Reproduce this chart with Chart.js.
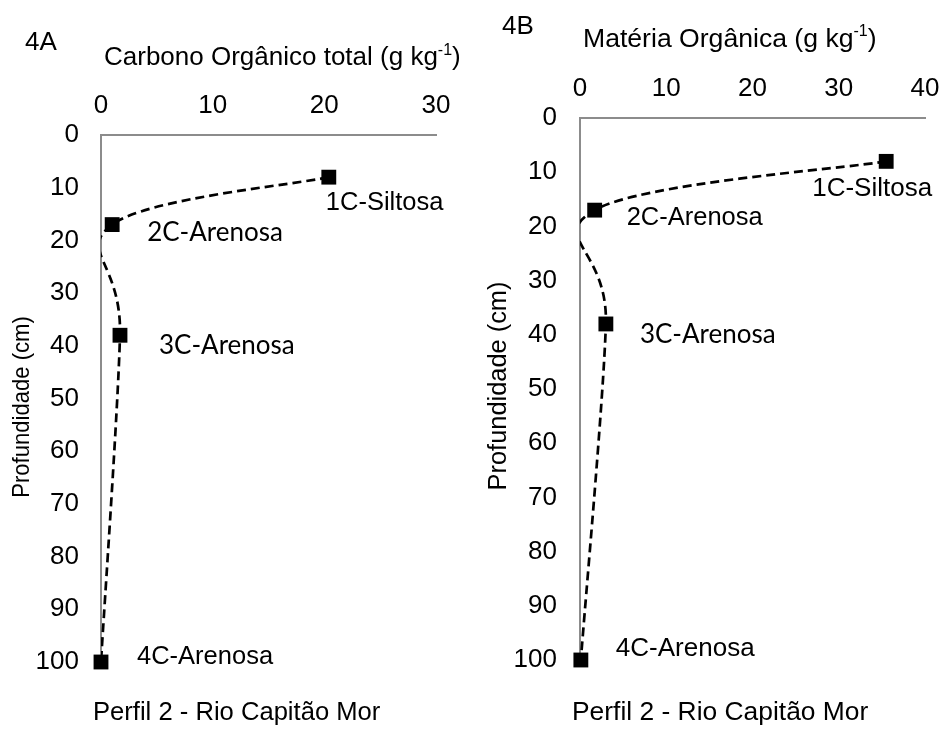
<!DOCTYPE html>
<html><head><meta charset="utf-8">
<script src="https://cdn.jsdelivr.net/npm/chart.js@4.4.1/dist/chart.umd.min.js"></script>
<style>
html,body{margin:0;padding:0;background:#fff;}
#wrap{position:relative;width:943px;height:729px;overflow:hidden;}
canvas{position:absolute;top:0;}
</style></head><body>
<div id="wrap">
<canvas id="cA" width="470" height="729" style="left:0;width:470px;height:729px"></canvas>
<canvas id="cB" width="473" height="729" style="left:470px;width:473px;height:729px"></canvas>
</div>
<script>
// ---- data ----
const depthCm = [8, 17, 38, 100];
const carbonoTotal = [20.4, 1.0, 1.7, 0.0];
const materiaOrganica = [35.5, 1.7, 3.0, 0.1];
const layerLabels = ['1C-Siltosa', '2C-Arenosa', '3C-Arenosa', '4C-Arenosa'];
const xTicksA = [0, 10, 20, 30];
const xTicksB = [0, 10, 20, 30, 40];
const yTicks = [0, 10, 20, 30, 40, 50, 60, 70, 80, 90, 100];

const ARIAL = '"Liberation Sans", Arial, sans-serif';
const CALI = 'Lato, "Liberation Sans", sans-serif';

function drawSup(ctx, x, y, base, sup, tail, size, family) {
  ctx.font = size + 'px ' + family;
  ctx.textAlign = 'left';
  ctx.textBaseline = 'middle';
  ctx.fillText(base, x, y);
  let w = ctx.measureText(base).width;
  ctx.font = Math.round(size * 0.62) + 'px ' + family;
  ctx.fillText(sup, x + w, y - size * 0.3);
  w += ctx.measureText(sup).width;
  ctx.font = size + 'px ' + family;
  ctx.fillText(tail, x + w, y);
}

// Excel-like smoothing (Catmull-Rom, 1/6 of neighbour difference)
const smoothPlugin = {
  id: 'smooth',
  beforeDatasetDraw(chart, args) {
    if (args.index !== 0) return;
    const meta = args.meta;
    const line = meta.dataset;
    line.updateControlPoints(chart.chartArea, 'x');
    const p = meta.data;
    const n = p.length;
    for (let i = 0; i < n; i++) {
      const a = p[Math.max(i - 1, 0)], b = p[Math.min(i + 1, n - 1)];
      const dx = (b.x - a.x) / 6, dy = (b.y - a.y) / 6;
      p[i].cp1x = p[i].x - dx; p[i].cp1y = p[i].y - dy;
      p[i].cp2x = p[i].x + dx; p[i].cp2y = p[i].y + dy;
    }
  }
};

function buildChart(id, cfg) {
  const canvas = document.getElementById(id);
  const W = canvas.width, H = canvas.height;
  const pts = cfg.xs.map((x, i) => ({x: x, y: depthCm[i]}));
  const textPlugin = {
    id: 'texts',
    afterDraw(chart) {
      const ctx = chart.ctx;
      ctx.save();
      ctx.fillStyle = '#000';
      ctx.font = cfg.fs + 'px ' + ARIAL;
      ctx.textAlign = 'left'; ctx.textBaseline = 'middle';
      ctx.fillText(cfg.panel, cfg.panelPos[0], cfg.panelPos[1]);
      drawSup(ctx, cfg.xTitlePos[0], cfg.xTitlePos[1], cfg.xTitle, '-1', ')', cfg.tfs, ARIAL);
      ctx.save();
      ctx.translate(cfg.yTitlePos[0], cfg.yTitlePos[1]);
      ctx.rotate(-Math.PI / 2);
      ctx.scale(cfg.yScaleX, 1);
      ctx.font = cfg.yfs + 'px ' + ARIAL;
      ctx.textAlign = 'center'; ctx.textBaseline = 'middle';
      ctx.fillText('Profundidade (cm)', 0, 0);
      ctx.restore();
      ctx.font = cfg.cfs + 'px ' + ARIAL;
      ctx.textAlign = 'left'; ctx.textBaseline = 'middle';
      ctx.fillText('Perfil 2 - Rio Capitão Mor', cfg.capPos[0], cfg.capPos[1]);
      const meta = chart.getDatasetMeta(1);
      meta.data.forEach((el, i) => {
        const o = cfg.labelOff[i];
        ctx.font = o[2] + 'px ' + o[3];
        ctx.fillText(layerLabels[i], el.x + o[0], el.y + o[1]);
      });
      ctx.restore();
    }
  };
  const tickFont = {family: ARIAL, size: cfg.fs};
  return new Chart(canvas, {
    type: 'scatter',
    data: {datasets: [{
      data: pts, showLine: true, borderColor: '#000', borderWidth: 2.7,
      borderDash: [9, 5], tension: 0.4, pointRadius: 0, pointHoverRadius: 0,
      clip: {left: 0, top: 30, right: 30, bottom: 30}
    }, {
      data: pts, showLine: false, pointStyle: 'rect', pointRadius: 10.5,
      pointHoverRadius: 10.5, pointBackgroundColor: '#000', pointBorderWidth: 0,
      pointBorderColor: '#000', clip: false
    }]},
    options: {
      responsive: false, animation: false, devicePixelRatio: 1,
      layout: {padding: {left: 0, top: 0, right: W - cfg.area.right, bottom: H - cfg.area.bottom}},
      plugins: {legend: {display: false}, tooltip: {enabled: false}},
      scales: {
        x: {
          type: 'linear', position: 'top', min: 0, max: cfg.xTicks[cfg.xTicks.length - 1],
          afterBuildTicks: s => { s.ticks = cfg.xTicks.map(v => ({value: v})); },
          ticks: {font: tickFont, color: '#000', padding: 14, maxRotation: 0, autoSkip: false},
          grid: {display: false, drawTicks: false},
          border: {display: true, color: '#8c8c8c', width: 2},
          afterFit: s => { s.height = cfg.area.top; s.paddingLeft = 0; s.paddingRight = 0; }
        },
        y: {
          type: 'linear', reverse: true, min: 0, max: 100,
          afterBuildTicks: s => { s.ticks = yTicks.map(v => ({value: v})); },
          ticks: {font: tickFont, color: '#000', padding: cfg.yPad, autoSkip: false},
          grid: {display: false, drawTicks: false},
          border: {display: true, color: '#8c8c8c', width: 2},
          afterFit: s => { s.width = cfg.area.left; s.paddingTop = 0; s.paddingBottom = 0; }
        }
      }
    },
    plugins: [smoothPlugin, textPlugin]
  });
}

buildChart('cA', {
  xs: carbonoTotal, xTicks: xTicksA, fs: 26, tfs: 26, cfs: 25.6, yfs: 24, yScaleX: 0.92, yPad: 22,
  area: {left: 101, right: 436, top: 135, bottom: 662},
  panel: '4A', panelPos: [25, 43],
  xTitle: 'Carbono Orgânico total (g kg', xTitlePos: [104, 58],
  yTitlePos: [22, 407],
  capPos: [93, 713],
  labelOff: [[-3, 26, 25.5, ARIAL], [35, 8, 26, CALI], [39, 10, 26, CALI], [36, -5, 25.5, ARIAL]]
});
buildChart('cB', {
  xs: materiaOrganica, xTicks: xTicksB, fs: 26, tfs: 26.6, cfs: 26.4, yfs: 25.4, yScaleX: 1, yPad: 23,
  area: {left: 110, right: 455, top: 118, bottom: 660},
  panel: '4B', panelPos: [32, 27],
  xTitle: 'Matéria Orgânica (g kg', xTitlePos: [113, 40],
  yTitlePos: [29, 386],
  capPos: [102, 713],
  labelOff: [[-74, 27, 26, ARIAL], [32, 8, 25.5, ARIAL], [34, 11, 26, CALI], [35, -11, 26, ARIAL]]
});
</script>
</body></html>
